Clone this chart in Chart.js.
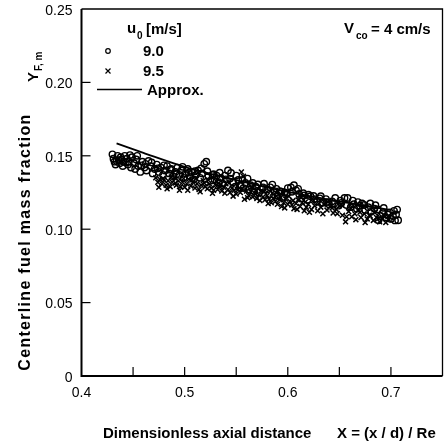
<!DOCTYPE html>
<html>
<head>
<meta charset="utf-8">
<script src="https://cdn.jsdelivr.net/npm/chart.js@4.4.1/dist/chart.umd.min.js"></script>
<style>
html,body{margin:0;padding:0;background:#fff;}
#wrap{width:448px;height:444px;position:relative;}
</style>
</head>
<body>
<div id="wrap"><canvas id="c" width="448" height="444"></canvas></div>
<script>
// u0 = 9.0 m/s (circles)
const circleX = [0.430,0.431,0.432,0.433,0.435,0.436,0.437,0.438,0.440,0.441,0.442,0.444,0.445,0.446,0.448,0.449,0.451,0.452,0.454,0.455,0.457,0.459,0.461,0.463,0.465,0.467,0.469,0.471,
0.473,0.475,0.477,0.479,0.481,0.483,0.485,0.487,0.489,0.491,0.493,0.495,0.497,0.499,0.501,0.503,0.505,0.507,0.509,0.511,0.513,0.515,0.517,0.519,0.521,0.523,0.525,0.527,0.529,
0.531,0.533,0.535,0.537,0.540,0.542,0.545,0.547,0.549,0.552,0.554,0.557,0.559,0.562,0.564,0.567,0.569,0.572,0.575,0.577,0.580,0.582,0.585,0.587,0.590,0.592,0.595,0.597,
0.600,0.603,0.606,0.608,0.611,0.613,0.616,0.619,0.622,0.625,0.628,0.631,0.634,0.637,0.640,0.643,0.646,0.649,0.652,0.655,0.658,0.661,0.664,0.667,0.670,0.672,0.675,0.678,0.681,0.684,0.685,0.688,0.690,0.692,0.695,0.697,0.700,0.702,0.704,0.706,0.707,0.705,
0.434,0.439,0.443,0.447,0.453,0.458,0.462,0.468,0.474,0.480,0.486,0.492,0.498,0.504,0.510,0.516,0.522,0.528,0.534,0.539,0.544,0.550,0.556,0.561,0.566,0.571,0.576,0.583,0.589,0.594,
0.599,0.604,0.610,0.615,0.620,0.626,0.632,0.638,0.645,0.651,0.657,0.663,0.668,0.674,0.680,0.687,0.693,0.699,0.703];
const circleY = [0.151,0.148,0.146,0.144,0.150,0.147,0.145,0.149,0.143,0.146,0.150,0.148,0.144,0.146,0.142,0.149,0.145,0.141,0.150,0.143,0.139,0.146,0.142,0.140,0.1465,0.143,0.138,0.141,
0.144,0.139,0.142,0.137,0.140,0.143,0.138,0.141,0.136,0.139,0.142,0.137,0.140,0.135,0.138,0.141,0.136,0.139,0.134,0.137,0.140,0.135,0.138,0.1445,0.146,0.136,0.133,0.137,0.134,
0.1365,0.132,0.135,0.131,0.134,0.140,0.1383,0.132,0.129,0.1335,0.130,0.128,0.1315,0.127,0.130,0.126,0.129,0.125,0.128,0.131,0.127,0.124,0.1304,0.126,0.123,0.126,0.122,0.125,
0.128,0.1285,0.130,0.1265,0.124,0.121,0.123,0.120,0.1225,0.1227,0.119,0.121,0.118,0.1205,0.117,0.119,0.1213,0.116,0.118,0.1213,0.1213,0.115,0.117,0.114,0.116,0.1175,0.113,0.115,0.112,0.114,0.1163,0.1061,0.109,0.111,0.108,0.110,0.107,0.109,0.106,0.1134,0.1061,0.110,
0.1465,0.1475,0.1455,0.1505,0.1475,0.1435,0.1445,0.1455,0.1415,0.1435,0.1405,0.1375,0.1425,0.1385,0.1395,0.1415,0.1395,0.1375,0.1385,0.1365,0.1345,0.1365,0.1335,0.1345,0.1315,0.1305,0.1285,0.1285,0.1275,0.1255,
0.1245,0.1255,0.1275,0.1245,0.1235,0.1205,0.1225,0.1185,0.1175,0.1195,0.1165,0.1195,0.1185,0.1165,0.1175,0.1135,0.1145,0.1115,0.1125];

// u0 = 9.5 m/s (crosses)
const crossX = [0.472,0.474,0.476,0.478,0.480,0.482,0.484,0.486,0.488,0.490,0.492,0.494,0.496,0.498,0.500,0.502,0.504,0.506,0.508,0.510,0.512,0.514,0.516,0.518,0.520,0.522,0.524,0.526,0.528,0.530,
0.532,0.534,0.536,0.538,0.540,0.542,0.544,0.546,0.548,0.550,0.552,0.554,0.555,0.557,0.558,0.560,0.562,0.564,0.566,0.568,0.570,0.572,0.574,0.576,0.578,0.580,0.582,0.584,0.586,0.588,
0.590,0.592,0.594,0.596,0.598,0.600,0.602,0.604,0.606,0.608,0.610,0.612,0.614,0.616,0.618,0.620,0.623,0.626,0.629,0.632,0.635,0.638,0.641,0.644,0.647,0.650,0.653,0.656,0.659,0.662,
0.665,0.668,0.671,0.674,0.677,0.680,0.683,0.686,0.689,0.692,0.695,0.698,
0.475,0.479,0.483,0.487,0.491,0.495,0.499,0.503,0.507,0.511,0.515,0.519,0.523,0.527,0.531,0.535,0.539,0.543,0.547,0.551,0.556,0.561,0.565,0.569,0.573,0.577,0.581,0.585,0.589,0.593,
0.597,0.601,0.605,0.609,0.613,0.617,0.621,0.625,0.630,0.634,0.639,0.643,0.648,0.652,0.657,0.661,0.666,0.670,0.675,0.679,0.684,0.688,0.693,0.697];
const crossY = [0.135,0.132,0.134,0.131,0.1335,0.130,0.133,0.129,0.132,0.135,0.130,0.133,0.129,0.132,0.1285,0.131,0.134,0.1295,0.132,0.128,0.131,0.127,0.130,0.133,0.129,0.1275,0.131,0.128,0.1265,0.130,
0.127,0.129,0.126,0.1285,0.131,0.127,0.125,0.128,0.1265,0.124,0.127,0.125,0.139,0.136,0.1204,0.126,0.123,0.1255,0.122,0.1245,0.121,0.1235,0.126,0.122,0.120,0.123,0.1205,0.118,0.121,0.119,
0.117,0.120,0.1155,0.118,0.1205,0.117,0.119,0.1165,0.114,0.1175,0.120,0.1155,0.118,0.1125,0.115,0.117,0.1135,0.116,0.1125,0.115,0.117,0.113,0.1155,0.111,0.1135,0.116,0.1095,0.105,0.112,0.1085,
0.1105,0.113,0.108,0.1105,0.107,0.109,0.106,0.108,0.105,0.107,0.1045,0.1065,
0.1285,0.1345,0.1275,0.1355,0.1315,0.1265,0.1345,0.1265,0.1335,0.1345,0.1255,0.1315,0.1335,0.1245,0.1325,0.1305,0.1245,0.1315,0.1225,0.1295,0.1275,0.1215,0.1285,0.1265,0.1195,0.1255,0.1175,0.1245,0.1225,0.1215,
0.1145,0.1225,0.1195,0.1135,0.1215,0.1185,0.1115,0.1195,0.1175,0.1105,0.1185,0.1145,0.1105,0.1165,0.1085,0.1145,0.1065,0.1115,0.1045,0.1095,0.1115,0.1075,0.1095,0.1085];

// Approximation curve
const approxX = [0.434,0.46,0.50,0.55,0.60,0.65,0.70];
const approxY = [0.1585,0.152,0.1425,0.1335,0.1255,0.119,0.113];

const xTickValues = [0.4,0.5,0.6,0.7];
const xTickLabels = ['0.4','0.5','0.6','0.7'];
const yTickValues = [0,0.05,0.10,0.15,0.20,0.25];
const yTickLabels = ['0','0.05','0.10','0.15','0.20','0.25'];

const legendTitle = ['u', '0', '[m/s]'];
const seriesNames = ['9.0','9.5','Approx.'];
const annotation = ['V', 'co', '= 4 cm/s'];
const xTitle = ['Dimensionless axial distance', 'X = (x / d) / Re'];
const yTitle = ['Centerline fuel mass fraction', 'Y', 'F, m'];

const FONT = '"Liberation Sans", Arial, Helvetica, sans-serif';

function pts(xs, ys){ return xs.map((x,i)=>({x:x,y:ys[i]})); }

const framePlugin = {
  id:'frame',
  beforeDraw(chart){
    const ctx = chart.ctx;
    ctx.save(); ctx.fillStyle='#fff'; ctx.fillRect(0,0,chart.width,chart.height); ctx.restore();
  },
  afterDatasetsDraw(chart){
    const {ctx, chartArea:a, scales} = chart;
    ctx.save();
    ctx.strokeStyle='#000';
    ctx.lineWidth=1.3;
    ctx.beginPath();
    ctx.moveTo(a.left, a.top); ctx.lineTo(a.right, a.top); ctx.lineTo(a.right, a.bottom);
    ctx.stroke();
    ctx.lineWidth=2;
    ctx.beginPath();
    ctx.moveTo(a.left, a.top); ctx.lineTo(a.left, a.bottom); ctx.lineTo(a.right, a.bottom);
    ctx.stroke();
    ctx.lineWidth=1.2;
    scales.x.ticks.forEach(t=>{
      const px = scales.x.getPixelForValue(t.value);
      if (px <= a.left+1 || px >= a.right-1) return;
      ctx.beginPath(); ctx.moveTo(px, a.bottom); ctx.lineTo(px, a.bottom-9); ctx.stroke();
    });
    scales.y.ticks.forEach(t=>{
      const py = scales.y.getPixelForValue(t.value);
      if (py <= a.top+1 || py >= a.bottom-1) return;
      ctx.beginPath(); ctx.moveTo(a.left, py); ctx.lineTo(a.left+9, py); ctx.stroke();
    });
    // tick labels
    ctx.fillStyle='#000';
    ctx.font='14px '+FONT;
    ctx.textBaseline='middle';
    ctx.textAlign='center';
    xTickValues.forEach((v,i)=>{
      ctx.fillText(xTickLabels[i], scales.x.getPixelForValue(v), a.bottom+17);
    });
    ctx.textAlign='right';
    yTickValues.forEach((v,i)=>{
      ctx.fillText(yTickLabels[i], a.left-9, scales.y.getPixelForValue(v)+2);
    });
    ctx.restore();
  },
  afterDraw(chart){
    const ctx = chart.ctx;
    ctx.save();
    ctx.fillStyle='#000'; ctx.strokeStyle='#000';
    ctx.textBaseline='alphabetic'; ctx.textAlign='left';
    const B15 = 'bold 15px '+FONT, B10 = 'bold 10px '+FONT;
    // legend title
    ctx.font=B15; ctx.fillText(legendTitle[0], 127, 33);
    ctx.font=B10; ctx.fillText(legendTitle[1], 137, 39);
    ctx.font=B15; ctx.fillText(legendTitle[2], 146, 34);
    // legend entries
    ctx.lineWidth=1.2;
    ctx.beginPath(); ctx.arc(108, 51, 2.3, 0, Math.PI*2); ctx.stroke();
    ctx.beginPath(); ctx.moveTo(105.5,68.5); ctx.lineTo(110.5,73.5); ctx.moveTo(110.5,68.5); ctx.lineTo(105.5,73.5); ctx.stroke();
    ctx.lineWidth=1.6;
    ctx.beginPath(); ctx.moveTo(97, 89.5); ctx.lineTo(142, 89.5); ctx.stroke();
    ctx.font=B15;
    ctx.fillText(seriesNames[0], 143, 56);
    ctx.fillText(seriesNames[1], 143, 76);
    ctx.fillText(seriesNames[2], 147, 95);
    // annotation
    ctx.font=B15; ctx.fillText(annotation[0], 344, 33);
    ctx.font=B10; ctx.fillText(annotation[1], 356, 39);
    ctx.font=B15; ctx.fillText(annotation[2], 371, 34);
    // x title
    ctx.font=B15;
    ctx.fillText(xTitle[0], 103, 438);
    ctx.fillText(xTitle[1], 337, 438);
    // y title
    ctx.save();
    ctx.translate(30, 242); ctx.rotate(-Math.PI/2);
    ctx.textAlign='center'; ctx.font='bold 16px '+FONT;
    try { ctx.letterSpacing = '1.3px'; } catch(e) {}
    ctx.fillText(yTitle[0], 0, 0);
    try { ctx.letterSpacing = '0px'; } catch(e) {}
    ctx.restore();
    ctx.save();
    ctx.translate(38, 82); ctx.rotate(-Math.PI/2);
    ctx.textAlign='left'; ctx.font=B15;
    ctx.fillText(yTitle[1], 0, 0);
    const w = ctx.measureText(yTitle[1]).width;
    ctx.font=B10; ctx.fillText(yTitle[2], w+1, 4);
    ctx.restore();
    ctx.restore();
  }
};

new Chart(document.getElementById('c'), {
  type:'scatter',
  data:{
    datasets:[
      {label:seriesNames[0], data:pts(circleX,circleY), pointStyle:'circle', pointRadius:3.2, borderColor:'#000', backgroundColor:'rgba(255,255,255,0)', borderWidth:1.4, showLine:false},
      {label:seriesNames[1], data:pts(crossX,crossY), pointStyle:'crossRot', pointRadius:3.5, borderColor:'#000', backgroundColor:'#000', borderWidth:1.5, showLine:false},
      {label:seriesNames[2], data:pts(approxX,approxY), type:'line', showLine:true, pointRadius:0, borderColor:'#000', borderWidth:1.8, tension:0.3, fill:false}
    ]
  },
  options:{
    responsive:false, animation:false, devicePixelRatio:1,
    layout:{padding:{top:9, right:4, left:0, bottom:0}},
    plugins:{legend:{display:false}, tooltip:{enabled:false}},
    scales:{
      x:{
        type:'linear', min:0.4, max:0.75,
        grid:{display:false, drawTicks:false}, border:{display:false},
        ticks:{stepSize:0.05, autoSkip:false, maxRotation:0, display:false},
        afterFit(s){ s.height = 68; }
      },
      y:{
        type:'linear', min:0, max:0.25,
        grid:{display:false, drawTicks:false}, border:{display:false},
        ticks:{stepSize:0.05, autoSkip:false, display:false},
        afterFit(s){ s.width = 81.5; }
      }
    }
  },
  plugins:[framePlugin]
});
</script>
</body>
</html>
